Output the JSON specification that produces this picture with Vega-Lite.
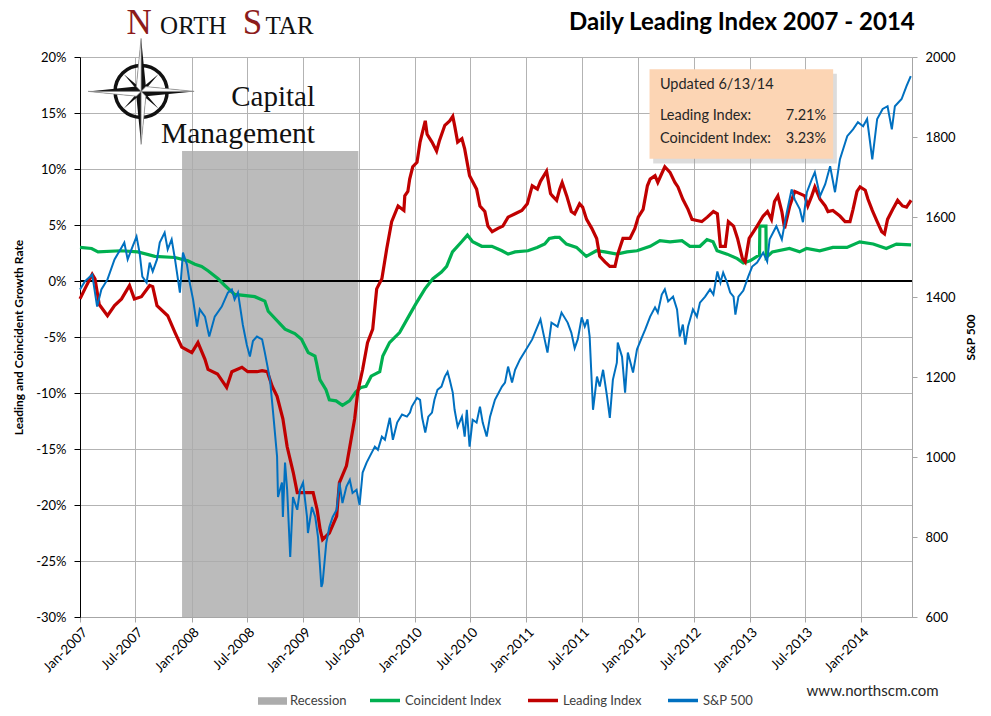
{
  "$schema": "https://vega.github.io/schema/vega-lite/v6.json",
  "width": 832,
  "height": 560,
  "autosize": {"type": "none"},
  "padding": {"left": 80, "top": 57, "right": 79, "bottom": 99},
  "background": "#ffffff",
  "config": {"view": {"stroke": null}, "font": "Lato"},
  "data": {"values": [
    {"series": "Recession", "date": "2007-12-01", "end": "2009-06-30", "value": 11.6},

    {"series": "Coincident Index", "date": "2007-01-01", "value": 3.0},
    {"series": "Coincident Index", "date": "2007-02-08", "value": 2.9},
    {"series": "Coincident Index", "date": "2007-03-01", "value": 2.6},
    {"series": "Coincident Index", "date": "2007-05-15", "value": 2.7},
    {"series": "Coincident Index", "date": "2007-07-09", "value": 2.6},
    {"series": "Coincident Index", "date": "2007-09-03", "value": 2.2},
    {"series": "Coincident Index", "date": "2007-11-08", "value": 2.1},
    {"series": "Coincident Index", "date": "2007-12-20", "value": 1.8},
    {"series": "Coincident Index", "date": "2008-01-12", "value": 1.5},
    {"series": "Coincident Index", "date": "2008-02-03", "value": 1.3},
    {"series": "Coincident Index", "date": "2008-02-25", "value": 0.9},
    {"series": "Coincident Index", "date": "2008-03-28", "value": 0.2},
    {"series": "Coincident Index", "date": "2008-04-19", "value": -0.4},
    {"series": "Coincident Index", "date": "2008-05-21", "value": -1.2},
    {"series": "Coincident Index", "date": "2008-07-26", "value": -1.4},
    {"series": "Coincident Index", "date": "2008-08-28", "value": -1.8},
    {"series": "Coincident Index", "date": "2008-09-08", "value": -2.7},
    {"series": "Coincident Index", "date": "2008-11-02", "value": -4.3},
    {"series": "Coincident Index", "date": "2008-12-04", "value": -4.7},
    {"series": "Coincident Index", "date": "2008-12-26", "value": -5.2},
    {"series": "Coincident Index", "date": "2009-01-17", "value": -6.4},
    {"series": "Coincident Index", "date": "2009-02-08", "value": -6.7},
    {"series": "Coincident Index", "date": "2009-02-13", "value": -7.3},
    {"series": "Coincident Index", "date": "2009-02-24", "value": -8.8},
    {"series": "Coincident Index", "date": "2009-03-16", "value": -9.7},
    {"series": "Coincident Index", "date": "2009-03-27", "value": -10.6},
    {"series": "Coincident Index", "date": "2009-04-18", "value": -10.7},
    {"series": "Coincident Index", "date": "2009-05-09", "value": -11.1},
    {"series": "Coincident Index", "date": "2009-06-01", "value": -10.7},
    {"series": "Coincident Index", "date": "2009-06-22", "value": -9.9},
    {"series": "Coincident Index", "date": "2009-07-09", "value": -9.5},
    {"series": "Coincident Index", "date": "2009-07-25", "value": -9.4},
    {"series": "Coincident Index", "date": "2009-08-11", "value": -8.5},
    {"series": "Coincident Index", "date": "2009-09-08", "value": -8.1},
    {"series": "Coincident Index", "date": "2009-09-18", "value": -6.7},
    {"series": "Coincident Index", "date": "2009-10-10", "value": -5.5},
    {"series": "Coincident Index", "date": "2009-11-12", "value": -4.6},
    {"series": "Coincident Index", "date": "2009-12-15", "value": -3.0},
    {"series": "Coincident Index", "date": "2010-01-05", "value": -2.0},
    {"series": "Coincident Index", "date": "2010-02-03", "value": -0.7},
    {"series": "Coincident Index", "date": "2010-03-01", "value": 0.2},
    {"series": "Coincident Index", "date": "2010-03-29", "value": 0.8},
    {"series": "Coincident Index", "date": "2010-04-15", "value": 1.3},
    {"series": "Coincident Index", "date": "2010-05-04", "value": 2.6},
    {"series": "Coincident Index", "date": "2010-06-03", "value": 3.5},
    {"series": "Coincident Index", "date": "2010-06-22", "value": 4.1},
    {"series": "Coincident Index", "date": "2010-07-09", "value": 3.5},
    {"series": "Coincident Index", "date": "2010-08-08", "value": 3.1},
    {"series": "Coincident Index", "date": "2010-09-10", "value": 3.1},
    {"series": "Coincident Index", "date": "2010-10-13", "value": 2.7},
    {"series": "Coincident Index", "date": "2010-11-02", "value": 2.4},
    {"series": "Coincident Index", "date": "2010-11-25", "value": 2.6},
    {"series": "Coincident Index", "date": "2011-01-06", "value": 2.7},
    {"series": "Coincident Index", "date": "2011-02-05", "value": 3.0},
    {"series": "Coincident Index", "date": "2011-03-02", "value": 3.3},
    {"series": "Coincident Index", "date": "2011-03-17", "value": 3.8},
    {"series": "Coincident Index", "date": "2011-04-04", "value": 3.9},
    {"series": "Coincident Index", "date": "2011-04-19", "value": 3.9},
    {"series": "Coincident Index", "date": "2011-05-12", "value": 3.3},
    {"series": "Coincident Index", "date": "2011-06-14", "value": 3.0},
    {"series": "Coincident Index", "date": "2011-07-16", "value": 2.2},
    {"series": "Coincident Index", "date": "2011-08-18", "value": 2.7},
    {"series": "Coincident Index", "date": "2011-09-15", "value": 2.6},
    {"series": "Coincident Index", "date": "2011-10-24", "value": 2.4},
    {"series": "Coincident Index", "date": "2011-11-26", "value": 2.6},
    {"series": "Coincident Index", "date": "2011-12-29", "value": 2.7},
    {"series": "Coincident Index", "date": "2012-02-10", "value": 3.1},
    {"series": "Coincident Index", "date": "2012-03-13", "value": 3.6},
    {"series": "Coincident Index", "date": "2012-04-15", "value": 3.5},
    {"series": "Coincident Index", "date": "2012-05-24", "value": 3.6},
    {"series": "Coincident Index", "date": "2012-06-19", "value": 3.1},
    {"series": "Coincident Index", "date": "2012-07-22", "value": 3.1},
    {"series": "Coincident Index", "date": "2012-08-14", "value": 3.7},
    {"series": "Coincident Index", "date": "2012-09-03", "value": 3.5},
    {"series": "Coincident Index", "date": "2012-09-16", "value": 2.7},
    {"series": "Coincident Index", "date": "2012-10-19", "value": 2.4},
    {"series": "Coincident Index", "date": "2012-11-21", "value": 2.0},
    {"series": "Coincident Index", "date": "2012-12-11", "value": 1.6},
    {"series": "Coincident Index", "date": "2013-01-02", "value": 1.8},
    {"series": "Coincident Index", "date": "2013-01-25", "value": 2.2},
    {"series": "Coincident Index", "date": "2013-02-02", "value": 2.3},
    {"series": "Coincident Index", "date": "2013-02-03", "value": 4.9},
    {"series": "Coincident Index", "date": "2013-02-23", "value": 4.9},
    {"series": "Coincident Index", "date": "2013-02-24", "value": 2.1},
    {"series": "Coincident Index", "date": "2013-03-16", "value": 2.6},
    {"series": "Coincident Index", "date": "2013-05-11", "value": 2.9},
    {"series": "Coincident Index", "date": "2013-06-13", "value": 2.6},
    {"series": "Coincident Index", "date": "2013-07-06", "value": 2.9},
    {"series": "Coincident Index", "date": "2013-08-18", "value": 2.7},
    {"series": "Coincident Index", "date": "2013-09-30", "value": 3.0},
    {"series": "Coincident Index", "date": "2013-11-15", "value": 3.0},
    {"series": "Coincident Index", "date": "2013-12-27", "value": 3.5},
    {"series": "Coincident Index", "date": "2014-02-09", "value": 3.3},
    {"series": "Coincident Index", "date": "2014-03-24", "value": 2.9},
    {"series": "Coincident Index", "date": "2014-04-26", "value": 3.3},
    {"series": "Coincident Index", "date": "2014-06-13", "value": 3.23},

    {"series": "Leading Index", "date": "2007-01-01", "value": -1.6},
    {"series": "Leading Index", "date": "2007-01-17", "value": -0.7},
    {"series": "Leading Index", "date": "2007-02-10", "value": 0.6},
    {"series": "Leading Index", "date": "2007-02-19", "value": 0.2},
    {"series": "Leading Index", "date": "2007-03-05", "value": -2.1},
    {"series": "Leading Index", "date": "2007-04-01", "value": -3.1},
    {"series": "Leading Index", "date": "2007-04-24", "value": -2.2},
    {"series": "Leading Index", "date": "2007-05-17", "value": -1.6},
    {"series": "Leading Index", "date": "2007-06-12", "value": -0.4},
    {"series": "Leading Index", "date": "2007-06-28", "value": -1.6},
    {"series": "Leading Index", "date": "2007-07-21", "value": -1.4},
    {"series": "Leading Index", "date": "2007-08-17", "value": -0.4},
    {"series": "Leading Index", "date": "2007-08-27", "value": -0.5},
    {"series": "Leading Index", "date": "2007-09-10", "value": -2.2},
    {"series": "Leading Index", "date": "2007-10-15", "value": -3.1},
    {"series": "Leading Index", "date": "2007-11-08", "value": -4.6},
    {"series": "Leading Index", "date": "2007-11-30", "value": -5.9},
    {"series": "Leading Index", "date": "2008-01-02", "value": -6.4},
    {"series": "Leading Index", "date": "2008-01-22", "value": -5.5},
    {"series": "Leading Index", "date": "2008-02-14", "value": -7.0},
    {"series": "Leading Index", "date": "2008-02-24", "value": -7.9},
    {"series": "Leading Index", "date": "2008-03-26", "value": -8.3},
    {"series": "Leading Index", "date": "2008-04-25", "value": -9.5},
    {"series": "Leading Index", "date": "2008-05-12", "value": -8.1},
    {"series": "Leading Index", "date": "2008-06-14", "value": -7.7},
    {"series": "Leading Index", "date": "2008-07-03", "value": -8.1},
    {"series": "Leading Index", "date": "2008-08-02", "value": -8.1},
    {"series": "Leading Index", "date": "2008-08-19", "value": -8.0},
    {"series": "Leading Index", "date": "2008-09-05", "value": -8.1},
    {"series": "Leading Index", "date": "2008-09-21", "value": -9.4},
    {"series": "Leading Index", "date": "2008-10-07", "value": -10.3},
    {"series": "Leading Index", "date": "2008-10-26", "value": -12.3},
    {"series": "Leading Index", "date": "2008-11-09", "value": -14.8},
    {"series": "Leading Index", "date": "2008-11-29", "value": -17.1},
    {"series": "Leading Index", "date": "2008-12-12", "value": -18.9},
    {"series": "Leading Index", "date": "2009-01-13", "value": -18.9},
    {"series": "Leading Index", "date": "2009-02-02", "value": -18.9},
    {"series": "Leading Index", "date": "2009-02-15", "value": -20.4},
    {"series": "Leading Index", "date": "2009-02-25", "value": -22.2},
    {"series": "Leading Index", "date": "2009-03-05", "value": -23.1},
    {"series": "Leading Index", "date": "2009-03-27", "value": -22.5},
    {"series": "Leading Index", "date": "2009-04-20", "value": -21.0},
    {"series": "Leading Index", "date": "2009-04-29", "value": -18.0},
    {"series": "Leading Index", "date": "2009-05-22", "value": -16.5},
    {"series": "Leading Index", "date": "2009-06-02", "value": -14.8},
    {"series": "Leading Index", "date": "2009-06-18", "value": -12.3},
    {"series": "Leading Index", "date": "2009-06-28", "value": -9.9},
    {"series": "Leading Index", "date": "2009-07-14", "value": -7.9},
    {"series": "Leading Index", "date": "2009-07-30", "value": -5.5},
    {"series": "Leading Index", "date": "2009-08-16", "value": -4.3},
    {"series": "Leading Index", "date": "2009-08-29", "value": -0.7},
    {"series": "Leading Index", "date": "2009-09-15", "value": 0.2},
    {"series": "Leading Index", "date": "2009-10-01", "value": 2.9},
    {"series": "Leading Index", "date": "2009-10-17", "value": 5.3},
    {"series": "Leading Index", "date": "2009-11-07", "value": 6.7},
    {"series": "Leading Index", "date": "2009-11-26", "value": 6.3},
    {"series": "Leading Index", "date": "2009-11-29", "value": 7.6},
    {"series": "Leading Index", "date": "2009-12-09", "value": 8.0},
    {"series": "Leading Index", "date": "2009-12-15", "value": 9.1},
    {"series": "Leading Index", "date": "2009-12-25", "value": 10.2},
    {"series": "Leading Index", "date": "2010-01-08", "value": 10.6},
    {"series": "Leading Index", "date": "2010-01-18", "value": 12.4},
    {"series": "Leading Index", "date": "2010-02-04", "value": 14.3},
    {"series": "Leading Index", "date": "2010-02-10", "value": 13.1},
    {"series": "Leading Index", "date": "2010-02-26", "value": 12.4},
    {"series": "Leading Index", "date": "2010-03-13", "value": 11.6},
    {"series": "Leading Index", "date": "2010-03-22", "value": 12.5},
    {"series": "Leading Index", "date": "2010-04-09", "value": 13.9},
    {"series": "Leading Index", "date": "2010-04-25", "value": 14.3},
    {"series": "Leading Index", "date": "2010-05-05", "value": 14.7},
    {"series": "Leading Index", "date": "2010-05-11", "value": 13.9},
    {"series": "Leading Index", "date": "2010-05-21", "value": 12.4},
    {"series": "Leading Index", "date": "2010-06-04", "value": 12.7},
    {"series": "Leading Index", "date": "2010-06-13", "value": 11.8},
    {"series": "Leading Index", "date": "2010-06-29", "value": 9.4},
    {"series": "Leading Index", "date": "2010-07-22", "value": 8.2},
    {"series": "Leading Index", "date": "2010-08-02", "value": 6.7},
    {"series": "Leading Index", "date": "2010-08-18", "value": 6.2},
    {"series": "Leading Index", "date": "2010-08-28", "value": 4.9},
    {"series": "Leading Index", "date": "2010-09-11", "value": 4.4},
    {"series": "Leading Index", "date": "2010-09-30", "value": 4.7},
    {"series": "Leading Index", "date": "2010-10-16", "value": 4.9},
    {"series": "Leading Index", "date": "2010-11-02", "value": 5.7},
    {"series": "Leading Index", "date": "2010-11-25", "value": 6.0},
    {"series": "Leading Index", "date": "2010-12-17", "value": 6.3},
    {"series": "Leading Index", "date": "2011-01-04", "value": 6.9},
    {"series": "Leading Index", "date": "2011-01-20", "value": 8.5},
    {"series": "Leading Index", "date": "2011-02-06", "value": 8.2},
    {"series": "Leading Index", "date": "2011-02-16", "value": 8.9},
    {"series": "Leading Index", "date": "2011-03-08", "value": 9.8},
    {"series": "Leading Index", "date": "2011-03-21", "value": 7.8},
    {"series": "Leading Index", "date": "2011-03-27", "value": 7.6},
    {"series": "Leading Index", "date": "2011-04-10", "value": 7.2},
    {"series": "Leading Index", "date": "2011-04-20", "value": 8.2},
    {"series": "Leading Index", "date": "2011-04-28", "value": 8.8},
    {"series": "Leading Index", "date": "2011-05-13", "value": 7.6},
    {"series": "Leading Index", "date": "2011-05-28", "value": 6.2},
    {"series": "Leading Index", "date": "2011-06-08", "value": 6.0},
    {"series": "Leading Index", "date": "2011-06-24", "value": 6.9},
    {"series": "Leading Index", "date": "2011-07-04", "value": 6.6},
    {"series": "Leading Index", "date": "2011-07-17", "value": 5.5},
    {"series": "Leading Index", "date": "2011-08-03", "value": 4.7},
    {"series": "Leading Index", "date": "2011-08-19", "value": 3.8},
    {"series": "Leading Index", "date": "2011-08-29", "value": 2.2},
    {"series": "Leading Index", "date": "2011-09-15", "value": 1.7},
    {"series": "Leading Index", "date": "2011-10-01", "value": 1.3},
    {"series": "Leading Index", "date": "2011-10-18", "value": 1.3},
    {"series": "Leading Index", "date": "2011-10-27", "value": 2.4},
    {"series": "Leading Index", "date": "2011-11-13", "value": 3.8},
    {"series": "Leading Index", "date": "2011-12-06", "value": 3.8},
    {"series": "Leading Index", "date": "2011-12-22", "value": 4.7},
    {"series": "Leading Index", "date": "2012-01-02", "value": 5.7},
    {"series": "Leading Index", "date": "2012-01-18", "value": 6.4},
    {"series": "Leading Index", "date": "2012-02-01", "value": 8.5},
    {"series": "Leading Index", "date": "2012-02-10", "value": 9.1},
    {"series": "Leading Index", "date": "2012-02-26", "value": 9.4},
    {"series": "Leading Index", "date": "2012-03-06", "value": 8.8},
    {"series": "Leading Index", "date": "2012-03-19", "value": 9.6},
    {"series": "Leading Index", "date": "2012-03-29", "value": 10.2},
    {"series": "Leading Index", "date": "2012-04-15", "value": 9.7},
    {"series": "Leading Index", "date": "2012-05-01", "value": 8.8},
    {"series": "Leading Index", "date": "2012-05-11", "value": 8.4},
    {"series": "Leading Index", "date": "2012-05-27", "value": 7.3},
    {"series": "Leading Index", "date": "2012-06-13", "value": 6.4},
    {"series": "Leading Index", "date": "2012-06-26", "value": 5.5},
    {"series": "Leading Index", "date": "2012-07-12", "value": 5.4},
    {"series": "Leading Index", "date": "2012-07-28", "value": 5.3},
    {"series": "Leading Index", "date": "2012-08-15", "value": 5.7},
    {"series": "Leading Index", "date": "2012-09-04", "value": 6.2},
    {"series": "Leading Index", "date": "2012-09-17", "value": 6.0},
    {"series": "Leading Index", "date": "2012-09-27", "value": 3.1},
    {"series": "Leading Index", "date": "2012-10-13", "value": 3.1},
    {"series": "Leading Index", "date": "2012-10-23", "value": 5.3},
    {"series": "Leading Index", "date": "2012-11-09", "value": 4.9},
    {"series": "Leading Index", "date": "2012-11-22", "value": 3.8},
    {"series": "Leading Index", "date": "2012-12-08", "value": 2.0},
    {"series": "Leading Index", "date": "2012-12-17", "value": 1.7},
    {"series": "Leading Index", "date": "2012-12-30", "value": 3.8},
    {"series": "Leading Index", "date": "2013-01-25", "value": 4.9},
    {"series": "Leading Index", "date": "2013-02-14", "value": 5.8},
    {"series": "Leading Index", "date": "2013-02-28", "value": 6.2},
    {"series": "Leading Index", "date": "2013-03-13", "value": 5.5},
    {"series": "Leading Index", "date": "2013-03-23", "value": 7.1},
    {"series": "Leading Index", "date": "2013-04-03", "value": 7.6},
    {"series": "Leading Index", "date": "2013-04-16", "value": 6.2},
    {"series": "Leading Index", "date": "2013-04-25", "value": 4.7},
    {"series": "Leading Index", "date": "2013-05-12", "value": 6.7},
    {"series": "Leading Index", "date": "2013-05-28", "value": 8.0},
    {"series": "Leading Index", "date": "2013-06-14", "value": 7.8},
    {"series": "Leading Index", "date": "2013-06-30", "value": 7.6},
    {"series": "Leading Index", "date": "2013-07-10", "value": 6.7},
    {"series": "Leading Index", "date": "2013-07-23", "value": 7.6},
    {"series": "Leading Index", "date": "2013-08-02", "value": 8.4},
    {"series": "Leading Index", "date": "2013-08-19", "value": 7.3},
    {"series": "Leading Index", "date": "2013-09-05", "value": 6.7},
    {"series": "Leading Index", "date": "2013-09-14", "value": 6.2},
    {"series": "Leading Index", "date": "2013-09-30", "value": 6.3},
    {"series": "Leading Index", "date": "2013-10-23", "value": 5.8},
    {"series": "Leading Index", "date": "2013-11-09", "value": 5.3},
    {"series": "Leading Index", "date": "2013-11-25", "value": 5.3},
    {"series": "Leading Index", "date": "2013-12-05", "value": 6.4},
    {"series": "Leading Index", "date": "2013-12-18", "value": 8.0},
    {"series": "Leading Index", "date": "2013-12-28", "value": 8.4},
    {"series": "Leading Index", "date": "2014-01-14", "value": 8.1},
    {"series": "Leading Index", "date": "2014-01-23", "value": 7.3},
    {"series": "Leading Index", "date": "2014-02-06", "value": 6.3},
    {"series": "Leading Index", "date": "2014-02-22", "value": 5.3},
    {"series": "Leading Index", "date": "2014-03-09", "value": 4.4},
    {"series": "Leading Index", "date": "2014-03-18", "value": 4.2},
    {"series": "Leading Index", "date": "2014-03-28", "value": 5.5},
    {"series": "Leading Index", "date": "2014-04-14", "value": 6.4},
    {"series": "Leading Index", "date": "2014-04-30", "value": 7.2},
    {"series": "Leading Index", "date": "2014-05-16", "value": 6.7},
    {"series": "Leading Index", "date": "2014-05-29", "value": 6.6},
    {"series": "Leading Index", "date": "2014-06-13", "value": 7.21},

    {"series": "S&P 500", "date": "2007-01-01", "value": 1419},
    {"series": "S&P 500", "date": "2007-01-17", "value": 1439},
    {"series": "S&P 500", "date": "2007-02-10", "value": 1456},
    {"series": "S&P 500", "date": "2007-02-26", "value": 1376},
    {"series": "S&P 500", "date": "2007-03-12", "value": 1419},
    {"series": "S&P 500", "date": "2007-04-01", "value": 1444},
    {"series": "S&P 500", "date": "2007-04-24", "value": 1494},
    {"series": "S&P 500", "date": "2007-05-17", "value": 1524},
    {"series": "S&P 500", "date": "2007-05-26", "value": 1536},
    {"series": "S&P 500", "date": "2007-06-06", "value": 1494},
    {"series": "S&P 500", "date": "2007-06-22", "value": 1526},
    {"series": "S&P 500", "date": "2007-07-05", "value": 1551},
    {"series": "S&P 500", "date": "2007-07-15", "value": 1511},
    {"series": "S&P 500", "date": "2007-07-24", "value": 1451},
    {"series": "S&P 500", "date": "2007-08-07", "value": 1436},
    {"series": "S&P 500", "date": "2007-08-17", "value": 1486},
    {"series": "S&P 500", "date": "2007-08-27", "value": 1464},
    {"series": "S&P 500", "date": "2007-09-10", "value": 1494},
    {"series": "S&P 500", "date": "2007-09-19", "value": 1536},
    {"series": "S&P 500", "date": "2007-10-05", "value": 1561},
    {"series": "S&P 500", "date": "2007-10-15", "value": 1519},
    {"series": "S&P 500", "date": "2007-10-28", "value": 1544},
    {"series": "S&P 500", "date": "2007-11-08", "value": 1494},
    {"series": "S&P 500", "date": "2007-11-24", "value": 1411},
    {"series": "S&P 500", "date": "2007-12-04", "value": 1511},
    {"series": "S&P 500", "date": "2007-12-17", "value": 1481},
    {"series": "S&P 500", "date": "2007-12-26", "value": 1436},
    {"series": "S&P 500", "date": "2008-01-06", "value": 1394},
    {"series": "S&P 500", "date": "2008-01-19", "value": 1326},
    {"series": "S&P 500", "date": "2008-01-28", "value": 1369},
    {"series": "S&P 500", "date": "2008-02-14", "value": 1351},
    {"series": "S&P 500", "date": "2008-02-28", "value": 1301},
    {"series": "S&P 500", "date": "2008-03-17", "value": 1351},
    {"series": "S&P 500", "date": "2008-04-09", "value": 1376},
    {"series": "S&P 500", "date": "2008-04-29", "value": 1411},
    {"series": "S&P 500", "date": "2008-05-12", "value": 1419},
    {"series": "S&P 500", "date": "2008-05-21", "value": 1394},
    {"series": "S&P 500", "date": "2008-06-01", "value": 1411},
    {"series": "S&P 500", "date": "2008-06-17", "value": 1330},
    {"series": "S&P 500", "date": "2008-06-30", "value": 1280},
    {"series": "S&P 500", "date": "2008-07-10", "value": 1251},
    {"series": "S&P 500", "date": "2008-07-20", "value": 1290},
    {"series": "S&P 500", "date": "2008-08-02", "value": 1301},
    {"series": "S&P 500", "date": "2008-08-19", "value": 1294},
    {"series": "S&P 500", "date": "2008-08-28", "value": 1261},
    {"series": "S&P 500", "date": "2008-09-14", "value": 1193},
    {"series": "S&P 500", "date": "2008-09-24", "value": 1111},
    {"series": "S&P 500", "date": "2008-10-07", "value": 1001},
    {"series": "S&P 500", "date": "2008-10-10", "value": 900},
    {"series": "S&P 500", "date": "2008-10-23", "value": 936},
    {"series": "S&P 500", "date": "2008-10-26", "value": 850},
    {"series": "S&P 500", "date": "2008-11-02", "value": 986},
    {"series": "S&P 500", "date": "2008-11-09", "value": 918},
    {"series": "S&P 500", "date": "2008-11-19", "value": 750},
    {"series": "S&P 500", "date": "2008-11-28", "value": 900},
    {"series": "S&P 500", "date": "2008-12-12", "value": 868},
    {"series": "S&P 500", "date": "2008-12-21", "value": 918},
    {"series": "S&P 500", "date": "2008-12-31", "value": 936},
    {"series": "S&P 500", "date": "2009-01-13", "value": 850},
    {"series": "S&P 500", "date": "2009-01-16", "value": 810},
    {"series": "S&P 500", "date": "2009-01-29", "value": 875},
    {"series": "S&P 500", "date": "2009-02-09", "value": 850},
    {"series": "S&P 500", "date": "2009-02-18", "value": 800},
    {"series": "S&P 500", "date": "2009-03-01", "value": 675},
    {"series": "S&P 500", "date": "2009-03-05", "value": 685},
    {"series": "S&P 500", "date": "2009-03-17", "value": 785},
    {"series": "S&P 500", "date": "2009-03-27", "value": 825},
    {"series": "S&P 500", "date": "2009-04-07", "value": 850},
    {"series": "S&P 500", "date": "2009-04-20", "value": 868},
    {"series": "S&P 500", "date": "2009-04-29", "value": 936},
    {"series": "S&P 500", "date": "2009-05-09", "value": 885},
    {"series": "S&P 500", "date": "2009-05-22", "value": 926},
    {"series": "S&P 500", "date": "2009-06-02", "value": 943},
    {"series": "S&P 500", "date": "2009-06-11", "value": 910},
    {"series": "S&P 500", "date": "2009-06-24", "value": 918},
    {"series": "S&P 500", "date": "2009-07-04", "value": 880},
    {"series": "S&P 500", "date": "2009-07-14", "value": 961},
    {"series": "S&P 500", "date": "2009-07-27", "value": 986},
    {"series": "S&P 500", "date": "2009-08-06", "value": 1001},
    {"series": "S&P 500", "date": "2009-08-23", "value": 1026},
    {"series": "S&P 500", "date": "2009-09-02", "value": 1018},
    {"series": "S&P 500", "date": "2009-09-15", "value": 1051},
    {"series": "S&P 500", "date": "2009-09-25", "value": 1043},
    {"series": "S&P 500", "date": "2009-10-11", "value": 1098},
    {"series": "S&P 500", "date": "2009-10-21", "value": 1043},
    {"series": "S&P 500", "date": "2009-11-04", "value": 1086},
    {"series": "S&P 500", "date": "2009-11-20", "value": 1106},
    {"series": "S&P 500", "date": "2009-12-06", "value": 1101},
    {"series": "S&P 500", "date": "2009-12-16", "value": 1111},
    {"series": "S&P 500", "date": "2009-12-22", "value": 1126},
    {"series": "S&P 500", "date": "2010-01-08", "value": 1148},
    {"series": "S&P 500", "date": "2010-01-18", "value": 1143},
    {"series": "S&P 500", "date": "2010-01-25", "value": 1098},
    {"series": "S&P 500", "date": "2010-02-04", "value": 1061},
    {"series": "S&P 500", "date": "2010-02-14", "value": 1101},
    {"series": "S&P 500", "date": "2010-02-26", "value": 1111},
    {"series": "S&P 500", "date": "2010-03-06", "value": 1143},
    {"series": "S&P 500", "date": "2010-03-16", "value": 1168},
    {"series": "S&P 500", "date": "2010-03-29", "value": 1176},
    {"series": "S&P 500", "date": "2010-04-09", "value": 1201},
    {"series": "S&P 500", "date": "2010-04-18", "value": 1213},
    {"series": "S&P 500", "date": "2010-04-25", "value": 1193},
    {"series": "S&P 500", "date": "2010-05-05", "value": 1161},
    {"series": "S&P 500", "date": "2010-05-11", "value": 1118},
    {"series": "S&P 500", "date": "2010-05-21", "value": 1076},
    {"series": "S&P 500", "date": "2010-06-04", "value": 1101},
    {"series": "S&P 500", "date": "2010-06-13", "value": 1051},
    {"series": "S&P 500", "date": "2010-06-20", "value": 1118},
    {"series": "S&P 500", "date": "2010-06-29", "value": 1026},
    {"series": "S&P 500", "date": "2010-07-09", "value": 1093},
    {"series": "S&P 500", "date": "2010-07-22", "value": 1086},
    {"series": "S&P 500", "date": "2010-08-02", "value": 1126},
    {"series": "S&P 500", "date": "2010-08-11", "value": 1086},
    {"series": "S&P 500", "date": "2010-08-24", "value": 1051},
    {"series": "S&P 500", "date": "2010-09-04", "value": 1101},
    {"series": "S&P 500", "date": "2010-09-20", "value": 1143},
    {"series": "S&P 500", "date": "2010-10-13", "value": 1176},
    {"series": "S&P 500", "date": "2010-10-23", "value": 1186},
    {"series": "S&P 500", "date": "2010-11-02", "value": 1226},
    {"series": "S&P 500", "date": "2010-11-15", "value": 1186},
    {"series": "S&P 500", "date": "2010-11-25", "value": 1218},
    {"series": "S&P 500", "date": "2010-12-11", "value": 1244},
    {"series": "S&P 500", "date": "2010-12-27", "value": 1264},
    {"series": "S&P 500", "date": "2011-01-20", "value": 1294},
    {"series": "S&P 500", "date": "2011-01-29", "value": 1311},
    {"series": "S&P 500", "date": "2011-02-16", "value": 1344},
    {"series": "S&P 500", "date": "2011-02-25", "value": 1311},
    {"series": "S&P 500", "date": "2011-03-11", "value": 1261},
    {"series": "S&P 500", "date": "2011-03-24", "value": 1336},
    {"series": "S&P 500", "date": "2011-04-13", "value": 1326},
    {"series": "S&P 500", "date": "2011-04-26", "value": 1361},
    {"series": "S&P 500", "date": "2011-05-16", "value": 1336},
    {"series": "S&P 500", "date": "2011-05-28", "value": 1311},
    {"series": "S&P 500", "date": "2011-06-08", "value": 1272},
    {"series": "S&P 500", "date": "2011-06-18", "value": 1294},
    {"series": "S&P 500", "date": "2011-07-01", "value": 1349},
    {"series": "S&P 500", "date": "2011-07-11", "value": 1326},
    {"series": "S&P 500", "date": "2011-07-20", "value": 1344},
    {"series": "S&P 500", "date": "2011-07-27", "value": 1301},
    {"series": "S&P 500", "date": "2011-08-07", "value": 1118},
    {"series": "S&P 500", "date": "2011-08-20", "value": 1201},
    {"series": "S&P 500", "date": "2011-08-29", "value": 1176},
    {"series": "S&P 500", "date": "2011-09-09", "value": 1218},
    {"series": "S&P 500", "date": "2011-09-22", "value": 1151},
    {"series": "S&P 500", "date": "2011-10-01", "value": 1098},
    {"series": "S&P 500", "date": "2011-10-11", "value": 1193},
    {"series": "S&P 500", "date": "2011-10-24", "value": 1236},
    {"series": "S&P 500", "date": "2011-10-27", "value": 1286},
    {"series": "S&P 500", "date": "2011-11-10", "value": 1251},
    {"series": "S&P 500", "date": "2011-11-20", "value": 1161},
    {"series": "S&P 500", "date": "2011-11-29", "value": 1261},
    {"series": "S&P 500", "date": "2011-12-16", "value": 1211},
    {"series": "S&P 500", "date": "2011-12-29", "value": 1269},
    {"series": "S&P 500", "date": "2012-01-15", "value": 1301},
    {"series": "S&P 500", "date": "2012-01-25", "value": 1319},
    {"series": "S&P 500", "date": "2012-02-10", "value": 1351},
    {"series": "S&P 500", "date": "2012-02-26", "value": 1374},
    {"series": "S&P 500", "date": "2012-03-06", "value": 1361},
    {"series": "S&P 500", "date": "2012-03-19", "value": 1406},
    {"series": "S&P 500", "date": "2012-03-29", "value": 1419},
    {"series": "S&P 500", "date": "2012-04-09", "value": 1389},
    {"series": "S&P 500", "date": "2012-04-25", "value": 1401},
    {"series": "S&P 500", "date": "2012-05-08", "value": 1369},
    {"series": "S&P 500", "date": "2012-05-17", "value": 1301},
    {"series": "S&P 500", "date": "2012-05-27", "value": 1331},
    {"series": "S&P 500", "date": "2012-06-04", "value": 1281},
    {"series": "S&P 500", "date": "2012-06-13", "value": 1326},
    {"series": "S&P 500", "date": "2012-06-29", "value": 1369},
    {"series": "S&P 500", "date": "2012-07-12", "value": 1351},
    {"series": "S&P 500", "date": "2012-07-22", "value": 1386},
    {"series": "S&P 500", "date": "2012-08-08", "value": 1401},
    {"series": "S&P 500", "date": "2012-08-24", "value": 1419},
    {"series": "S&P 500", "date": "2012-09-04", "value": 1406},
    {"series": "S&P 500", "date": "2012-09-17", "value": 1464},
    {"series": "S&P 500", "date": "2012-09-27", "value": 1436},
    {"series": "S&P 500", "date": "2012-10-06", "value": 1461},
    {"series": "S&P 500", "date": "2012-10-19", "value": 1436},
    {"series": "S&P 500", "date": "2012-10-29", "value": 1411},
    {"series": "S&P 500", "date": "2012-11-09", "value": 1401},
    {"series": "S&P 500", "date": "2012-11-15", "value": 1356},
    {"series": "S&P 500", "date": "2012-11-25", "value": 1401},
    {"series": "S&P 500", "date": "2012-12-11", "value": 1416},
    {"series": "S&P 500", "date": "2012-12-27", "value": 1451},
    {"series": "S&P 500", "date": "2013-01-09", "value": 1476},
    {"series": "S&P 500", "date": "2013-01-25", "value": 1486},
    {"series": "S&P 500", "date": "2013-02-14", "value": 1511},
    {"series": "S&P 500", "date": "2013-02-27", "value": 1489},
    {"series": "S&P 500", "date": "2013-03-07", "value": 1544},
    {"series": "S&P 500", "date": "2013-03-29", "value": 1577},
    {"series": "S&P 500", "date": "2013-04-16", "value": 1544},
    {"series": "S&P 500", "date": "2013-05-02", "value": 1611},
    {"series": "S&P 500", "date": "2013-05-18", "value": 1669},
    {"series": "S&P 500", "date": "2013-05-28", "value": 1644},
    {"series": "S&P 500", "date": "2013-06-14", "value": 1619},
    {"series": "S&P 500", "date": "2013-06-24", "value": 1587},
    {"series": "S&P 500", "date": "2013-07-07", "value": 1662},
    {"series": "S&P 500", "date": "2013-07-23", "value": 1694},
    {"series": "S&P 500", "date": "2013-08-02", "value": 1712},
    {"series": "S&P 500", "date": "2013-08-19", "value": 1652},
    {"series": "S&P 500", "date": "2013-09-05", "value": 1682},
    {"series": "S&P 500", "date": "2013-09-21", "value": 1727},
    {"series": "S&P 500", "date": "2013-10-07", "value": 1662},
    {"series": "S&P 500", "date": "2013-10-23", "value": 1744},
    {"series": "S&P 500", "date": "2013-11-16", "value": 1802},
    {"series": "S&P 500", "date": "2013-12-05", "value": 1819},
    {"series": "S&P 500", "date": "2013-12-21", "value": 1837},
    {"series": "S&P 500", "date": "2014-01-07", "value": 1827},
    {"series": "S&P 500", "date": "2014-01-20", "value": 1845},
    {"series": "S&P 500", "date": "2014-02-06", "value": 1744},
    {"series": "S&P 500", "date": "2014-02-22", "value": 1845},
    {"series": "S&P 500", "date": "2014-03-12", "value": 1870},
    {"series": "S&P 500", "date": "2014-03-28", "value": 1877},
    {"series": "S&P 500", "date": "2014-04-11", "value": 1819},
    {"series": "S&P 500", "date": "2014-04-21", "value": 1877},
    {"series": "S&P 500", "date": "2014-05-13", "value": 1895},
    {"series": "S&P 500", "date": "2014-05-29", "value": 1927},
    {"series": "S&P 500", "date": "2014-06-12", "value": 1952}
  ]},
  "layer": [
    {
      "layer": [
        {
          "transform": [{"filter": "datum.series === 'Recession'"}],
          "mark": {"type": "rect", "opacity": 0.82},
          "encoding": {
            "x": {
              "field": "date", "type": "temporal",
              "scale": {"domain": [{"year": 2007, "month": 1, "date": 1}, {"year": 2014, "month": 6, "date": 16}]},
              "axis": {
                "title": null,
                "values": [
                  {"year": 2007, "month": 1, "date": 1}, {"year": 2007, "month": 7, "date": 1},
                  {"year": 2008, "month": 1, "date": 1}, {"year": 2008, "month": 7, "date": 1},
                  {"year": 2009, "month": 1, "date": 1}, {"year": 2009, "month": 7, "date": 1},
                  {"year": 2010, "month": 1, "date": 1}, {"year": 2010, "month": 7, "date": 1},
                  {"year": 2011, "month": 1, "date": 1}, {"year": 2011, "month": 7, "date": 1},
                  {"year": 2012, "month": 1, "date": 1}, {"year": 2012, "month": 7, "date": 1},
                  {"year": 2013, "month": 1, "date": 1}, {"year": 2013, "month": 7, "date": 1},
                  {"year": 2014, "month": 1, "date": 1}
                ],
                "format": "%b-%Y",
                "labelAngle": -45,
                "labelFont": "Lato",
                "labelFontSize": 13.5,
                "labelColor": "#000000",
                "labelPadding": 3,
                "labelOverlap": false,
                "labelFlush": false,
                "tickSize": 5,
                "tickColor": "#a6a6a6",
                "domainColor": "#a6a6a6",
                "grid": true,
                "gridColor": "#b3b3b3"
              }
            },
            "x2": {"field": "end"},
            "y": {
              "field": "value", "type": "quantitative",
              "scale": {"domain": [-30, 20], "nice": false, "zero": false},
              "axis": {
                "values": [-30, -25, -20, -15, -10, -5, 0, 5, 10, 15, 20],
                "labelExpr": "datum.value + '%'",
                "labelFont": "Lato",
                "labelFontSize": 13,
                "labelColor": "#000000",
                "labelPadding": 8,
                "tickSize": 6,
                "tickColor": "#000000",
                "domainColor": "#000000",
                "grid": true,
                "gridColor": "#b3b3b3",
                "title": "Leading and Coincident Growth Rate",
                "titleFont": "Lato",
                "titleFontSize": 12,
                "titleFontWeight": "bold",
                "titleColor": "#000000",
                "titlePadding": 10
              }
            },
            "y2": {"datum": -30},
            "fill": {
              "field": "series", "type": "nominal",
              "scale": {"domain": ["Recession"], "range": ["#acacac"]},
              "legend": {
                "title": null,
                "orient": "none",
                "legendX": 178,
                "legendY": 629.5,
                "direction": "horizontal",
                "padding": 0,
                "symbolType": "M-1,-0.26L1,-0.26L1,0.26L-1,0.26Z",
                "symbolSize": 841,
                "symbolOpacity": 1,
                "symbolFillColor": "#bbbbbb",
                "symbolStrokeWidth": 0,
                "labelFont": "Lato",
                "labelFontSize": 13,
                "labelColor": "#404040",
                "labelOffset": 3
              }
            }
          }
        },
        {
          "data": {"values": [{}]},
          "mark": {"type": "rule", "color": "#000000", "strokeWidth": 2},
          "encoding": {"y": {"datum": 0, "type": "quantitative"}}
        },
        {
          "transform": [{"filter": "datum.series === 'Coincident Index'"}],
          "mark": {"type": "line", "strokeWidth": 3.2},
          "encoding": {
            "x": {"field": "date", "type": "temporal"},
            "y": {"field": "value", "type": "quantitative"},
            "color": {
              "field": "series", "type": "nominal",
              "scale": {
                "domain": ["Coincident Index", "Leading Index", "S&P 500"],
                "range": ["#00b050", "#c00000", "#0070c0"]
              },
              "legend": {
                "title": null,
                "orient": "none",
                "legendX": 288,
                "legendY": 626.5,
                "direction": "horizontal",
                "padding": 0,
                "symbolType": "stroke",
                "symbolSize": 900,
                "symbolStrokeWidth": 3.5,
                "symbolOpacity": 1,
                "labelFont": "Lato",
                "labelFontSize": 13,
                "labelColor": "#404040",
                "labelOffset": 3,
                "columnPadding": 19
              }
            }
          }
        },
        {
          "transform": [{"filter": "datum.series === 'Leading Index'"}],
          "mark": {"type": "line", "strokeWidth": 3.2},
          "encoding": {
            "x": {"field": "date", "type": "temporal"},
            "y": {"field": "value", "type": "quantitative"},
            "color": {"field": "series", "type": "nominal"}
          }
        },
        {
          "data": {"values": [{}]},
          "mark": {"type": "rect", "color": "#9a9a9a", "opacity": 0.35, "clip": false},
          "encoding": {
            "x": {"datum": {"year": 2012, "month": 2, "date": 20}, "type": "temporal"},
            "x2": {"datum": {"year": 2013, "month": 10, "date": 13}},
            "y": {"datum": 18.5, "type": "quantitative"},
            "y2": {"datum": 10.5}
          }
        },
        {
          "data": {"values": [{}]},
          "mark": {"type": "rect", "color": "#fcd5b4", "opacity": 1, "clip": false},
          "encoding": {
            "x": {"datum": {"year": 2012, "month": 2, "date": 8}, "type": "temporal"},
            "x2": {"datum": {"year": 2013, "month": 10, "date": 1}},
            "y": {"datum": 18.9, "type": "quantitative"},
            "y2": {"datum": 10.91}
          }
        },
        {
          "data": {"values": [{}]},
          "mark": {"type": "text", "text": "Daily Leading Index 2007 - 2014", "align": "right", "baseline": "alphabetic", "font": "Lato", "fontSize": 24, "fontWeight": "bold", "color": "#000000", "clip": false},
          "encoding": {
            "x": {"datum": {"year": 2014, "month": 6, "date": 25}, "type": "temporal"},
            "y": {"datum": 22.4, "type": "quantitative"}
          }
        },
        {
          "data": {"values": [{}]},
          "mark": {"type": "text", "text": "Updated  6/13/14", "align": "left", "baseline": "alphabetic", "font": "Lato", "fontSize": 14.5, "color": "#262626", "clip": false},
          "encoding": {
            "x": {"datum": {"year": 2012, "month": 3, "date": 13}, "type": "temporal"},
            "y": {"datum": 17.11, "type": "quantitative"}
          }
        },
        {
          "data": {"values": [{}]},
          "mark": {"type": "text", "text": "Leading Index:", "align": "left", "baseline": "alphabetic", "font": "Lato", "fontSize": 14.5, "color": "#262626", "clip": false},
          "encoding": {
            "x": {"datum": {"year": 2012, "month": 3, "date": 13}, "type": "temporal"},
            "y": {"datum": 14.34, "type": "quantitative"}
          }
        },
        {
          "data": {"values": [{}]},
          "mark": {"type": "text", "text": "Coincident Index:", "align": "left", "baseline": "alphabetic", "font": "Lato", "fontSize": 14.5, "color": "#262626", "clip": false},
          "encoding": {
            "x": {"datum": {"year": 2012, "month": 3, "date": 13}, "type": "temporal"},
            "y": {"datum": 12.34, "type": "quantitative"}
          }
        },
        {
          "data": {"values": [{}]},
          "mark": {"type": "text", "text": "7.21%", "align": "right", "baseline": "alphabetic", "font": "Lato", "fontSize": 14.5, "color": "#262626", "clip": false},
          "encoding": {
            "x": {"datum": {"year": 2013, "month": 9, "date": 8}, "type": "temporal"},
            "y": {"datum": 14.34, "type": "quantitative"}
          }
        },
        {
          "data": {"values": [{}]},
          "mark": {"type": "text", "text": "3.23%", "align": "right", "baseline": "alphabetic", "font": "Lato", "fontSize": 14.5, "color": "#262626", "clip": false},
          "encoding": {
            "x": {"datum": {"year": 2013, "month": 9, "date": 8}, "type": "temporal"},
            "y": {"datum": 12.34, "type": "quantitative"}
          }
        },
        {
          "data": {"values": [{}]},
          "mark": {"type": "text", "text": "www.northscm.com", "align": "left", "baseline": "alphabetic", "font": "Lato", "fontSize": 15, "color": "#262626", "clip": false},
          "encoding": {
            "x": {"datum": {"year": 2013, "month": 7, "date": 6}, "type": "temporal"},
            "y": {"datum": -37.09, "type": "quantitative"}
          }
        },
        {
          "data": {"values": [{}]},
          "mark": {"type": "text", "text": "N", "align": "left", "baseline": "alphabetic", "font": "Liberation Serif", "fontSize": 35, "color": "#8c1b1b", "clip": false},
          "encoding": {
            "x": {"datum": {"year": 2007, "month": 6, "date": 2}, "type": "temporal"},
            "y": {"datum": 22.03, "type": "quantitative"}
          }
        },
        {
          "data": {"values": [{}]},
          "mark": {"type": "text", "text": "ORTH", "align": "center", "baseline": "alphabetic", "font": "Liberation Serif", "fontSize": 25, "color": "#111111", "clip": false},
          "encoding": {
            "x": {"datum": {"year": 2008, "month": 1, "date": 7}, "type": "temporal"},
            "y": {"datum": 22.03, "type": "quantitative"}
          }
        },
        {
          "data": {"values": [{}]},
          "mark": {"type": "text", "text": "S", "align": "left", "baseline": "alphabetic", "font": "Liberation Serif", "fontSize": 35, "color": "#8c1b1b", "clip": false},
          "encoding": {
            "x": {"datum": {"year": 2008, "month": 6, "date": 17}, "type": "temporal"},
            "y": {"datum": 22.03, "type": "quantitative"}
          }
        },
        {
          "data": {"values": [{}]},
          "mark": {"type": "text", "text": "TAR", "align": "center", "baseline": "alphabetic", "font": "Liberation Serif", "fontSize": 25, "color": "#111111", "clip": false},
          "encoding": {
            "x": {"datum": {"year": 2008, "month": 11, "date": 17}, "type": "temporal"},
            "y": {"datum": 22.03, "type": "quantitative"}
          }
        },
        {
          "data": {"values": [{}]},
          "mark": {"type": "text", "text": "Capital", "align": "right", "baseline": "alphabetic", "font": "Liberation Serif", "fontSize": 29, "color": "#111111", "clip": false},
          "encoding": {
            "x": {"datum": {"year": 2009, "month": 2, "date": 8}, "type": "temporal"},
            "y": {"datum": 15.63, "type": "quantitative"}
          }
        },
        {
          "data": {"values": [{}]},
          "mark": {"type": "text", "text": "Management", "align": "right", "baseline": "alphabetic", "font": "Liberation Serif", "fontSize": 29.5, "color": "#111111", "clip": false},
          "encoding": {
            "x": {"datum": {"year": 2009, "month": 2, "date": 8}, "type": "temporal"},
            "y": {"datum": 12.34, "type": "quantitative"}
          }
        },
        {
          "data": {"values": [{}]},
          "mark": {"type": "point", "shape": "circle", "filled": false, "color": "#111111", "strokeWidth": 3.5, "size": 2704, "opacity": 1, "clip": false},
          "encoding": {
            "x": {"datum": {"year": 2007, "month": 7, "date": 20}, "type": "temporal"},
            "y": {"datum": 16.93, "type": "quantitative"}
          }
        },
        {
          "data": {"values": [{}]},
          "mark": {"type": "point", "shape": "M0.33,-0.33L0.05,0L0.33,0.33L0,0.05L-0.33,0.33L-0.05,0L-0.33,-0.33L0,-0.05Z", "filled": true, "color": "#111111", "size": 11236, "opacity": 1, "clip": false},
          "encoding": {
            "x": {"datum": {"year": 2007, "month": 7, "date": 20}, "type": "temporal"},
            "y": {"datum": 16.93, "type": "quantitative"}
          }
        },
        {
          "data": {"values": [{}]},
          "mark": {"type": "point", "shape": "M0,-1L0.09,-0.09L1,0L0.09,0.09L0,1L-0.09,0.09L-1,0L-0.09,-0.09Z", "filled": true, "color": "#111111", "size": 11236, "opacity": 1, "clip": false},
          "encoding": {
            "x": {"datum": {"year": 2007, "month": 7, "date": 20}, "type": "temporal"},
            "y": {"datum": 16.93, "type": "quantitative"}
          }
        },
        {
          "data": {"values": [{}]},
          "mark": {"type": "point", "shape": "M0,-1L-0.09,-0.09L0,0ZM1,0L0.09,-0.09L0,0ZM0,1L0.09,0.09L0,0ZM-1,0L-0.09,0.09L0,0Z", "filled": true, "color": "#ffffff", "stroke": "#8a8a8a", "strokeWidth": 0.7, "size": 11236, "opacity": 1, "clip": false},
          "encoding": {
            "x": {"datum": {"year": 2007, "month": 7, "date": 20}, "type": "temporal"},
            "y": {"datum": 16.93, "type": "quantitative"}
          }
        }
      ]
    },
    {
      "transform": [{"filter": "datum.series === 'S&P 500'"}],
      "mark": {"type": "line", "strokeWidth": 2},
      "encoding": {
        "x": {"field": "date", "type": "temporal"},
        "y": {
          "field": "value", "type": "quantitative",
          "scale": {"domain": [600, 2000], "nice": false, "zero": false},
          "axis": {
            "orient": "right",
            "values": [600, 800, 1000, 1200, 1400, 1600, 1800, 2000],
            "format": "d",
            "grid": false,
            "labelFont": "Lato",
            "labelFontSize": 13,
            "labelColor": "#000000",
            "labelPadding": 8,
            "tickSize": 5,
            "tickColor": "#a6a6a6",
            "domainColor": "#a6a6a6",
            "title": "S&P 500",
            "titleFont": "Lato",
            "titleFontSize": 12,
            "titleFontWeight": "bold",
            "titleColor": "#000000",
            "titleAngle": 270,
            "titlePadding": 22
          }
        },
        "color": {"field": "series", "type": "nominal"}
      }
    }
  ],
  "resolve": {"scale": {"y": "independent"}}
}
